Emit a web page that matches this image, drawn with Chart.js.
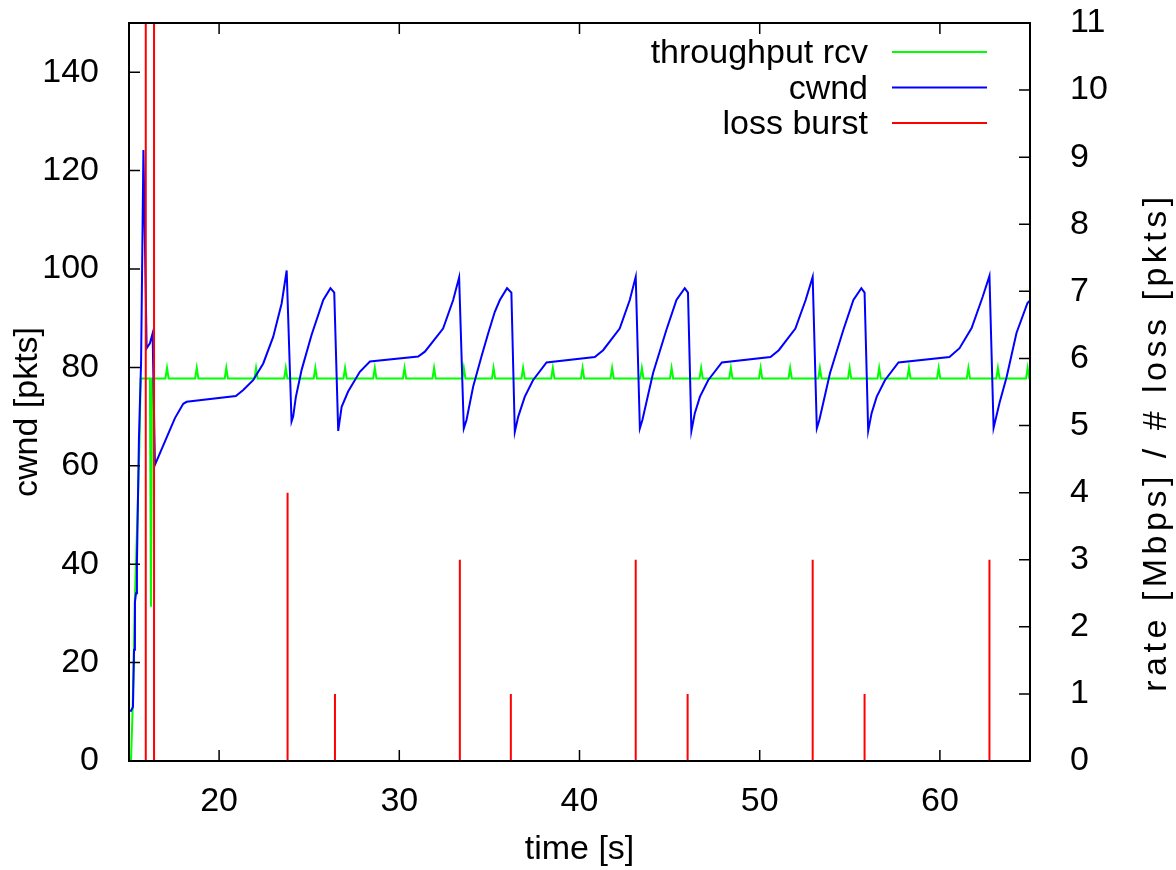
<!DOCTYPE html>
<html>
<head>
<meta charset="utf-8">
<script src="https://cdn.jsdelivr.net/npm/chart.js@4.4.1/dist/chart.umd.min.js"></script>
<style>
  html, body { margin: 0; padding: 0; background: #fff; }
  #wrap { width: 1176px; height: 870px; }
</style>
</head>
<body>
<div id="wrap"><canvas id="chart" width="1176" height="870"></canvas></div>
<script>
// ---------- DATA ----------
const xTicks = [20, 30, 40, 50, 60];
const yTicks = [0, 20, 40, 60, 80, 100, 120, 140];
const y2Ticks = [0, 1, 2, 3, 4, 5, 6, 7, 8, 9, 10, 11];

// cwnd [pkts] over time [s]
const cwndT = [15.08, 15.22, 15.28, 15.33, 15.39, 15.44, 15.55, 15.61, 15.67, 15.80, 15.98, 16.16, 16.31, 16.44,
  17.27, 17.55, 18.01, 18.2, 20.93, 21.34, 21.89, 22.45, 23.0, 23.47, 23.75,
  24.02, 24.11, 24.26, 24.58, 25.13, 25.78, 26.18, 26.39, 26.61, 26.8, 27.16, 27.81, 28.37, 31.05, 31.42, 32.43, 32.99, 33.32,
  33.58, 33.73, 34.1, 34.56, 34.93, 35.3, 35.58, 35.98, 36.22, 36.41, 36.6, 36.96, 37.42, 38.17, 40.85, 41.31, 42.23, 42.79, 43.12,
  43.35, 43.49, 44.08, 44.82, 45.38, 45.84, 46.02, 46.21, 46.4, 46.68, 47.14, 47.9, 50.6, 51.06, 51.98, 52.55, 52.94,
  53.17, 53.31, 53.9, 54.64, 55.2, 55.64, 55.82, 56.02, 56.21, 56.49, 56.95, 57.7, 60.53, 61.09, 61.76, 62.37, 62.75,
  62.98, 63.31, 63.7, 64.25, 64.86, 65.0];
const cwndV = [10.0, 11.0, 22.6, 32.3, 34.1, 40.2, 65.2, 73.4, 80.9, 124.2, 83.9, 84.9, 86.9, 60.2,
  67.3, 69.7, 72.6, 73.0, 74.2, 75.4, 77.4, 80.8, 86.2, 93.0, 99.7,
  69.0, 70.0, 74.0, 79.5, 86.6, 93.7, 96.1, 95.2, 67.1, 72.0, 75.1, 79.1, 81.2, 82.2, 83.2, 87.9, 93.7, 98.3,
  67.6, 69.3, 76.1, 82.2, 86.9, 91.3, 93.7, 96.1, 95.2, 66.9, 70.0, 74.0, 77.4, 81.0, 82.1, 83.5, 87.9, 93.7, 98.4,
  67.6, 69.3, 78.8, 87.6, 93.7, 96.1, 95.2, 67.1, 70.7, 74.0, 77.4, 81.0, 82.1, 83.5, 87.9, 93.7, 98.4,
  67.6, 69.3, 78.8, 87.6, 93.7, 96.1, 95.2, 67.1, 70.7, 74.0, 77.4, 81.0, 82.1, 83.9, 88.0, 94.3, 98.6,
  67.7, 72.8, 78.0, 87.0, 93.1, 93.6];

// throughput rcv [Mbps]: ramp-up, then steady rate with short spikes
const rcvStartT = [15.11, 15.2, 15.33, 15.46, 15.57, 15.65, 16.16, 16.22, 16.28];
const rcvStartV = [0, 0.76, 2.45, 3.59, 4.59, 5.70, 5.70, 2.3, 5.70];
const rcvBase = 5.70;
const rcvSpikeT = [17.11, 18.76, 20.40, 22.05, 23.70, 25.34, 26.99, 28.64, 30.29, 31.93, 33.58, 35.23, 36.87, 38.52, 40.17,
  41.81, 43.46, 45.11, 46.75, 48.40, 50.05, 51.69, 53.34, 54.99, 56.63, 58.28, 59.93, 61.58, 63.22, 64.87];
const rcvSpikeV = [5.86, 5.86, 5.86, 5.86, 5.86, 5.86, 5.86, 5.86, 5.86, 5.86, 5.86, 5.86, 5.86, 5.86, 5.86,
  5.86, 5.86, 5.86, 5.86, 5.86, 5.86, 5.86, 5.86, 5.86, 5.86, 5.86, 5.86, 5.86, 5.86, 5.86];

// loss burst [pkts]
const lossT = [15.93, 16.39, 23.80, 26.43, 33.36, 36.19, 43.12, 46.0, 52.94, 55.82, 62.75];
const lossV = [14, 14, 4, 1, 3, 1, 3, 1, 3, 1, 3];

// ---------- build point lists ----------
const cwndPts = cwndT.map((t, i) => ({ x: t, y: cwndV[i] }));

const rcvPts = rcvStartT.map((t, i) => ({ x: t, y: rcvStartV[i] }));
rcvSpikeT.forEach((t, i) => {
  rcvPts.push({ x: t - 0.09, y: rcvBase }, { x: t, y: rcvSpikeV[i] }, { x: Math.min(t + 0.09, 65), y: rcvBase });
});
rcvPts.push({ x: 65, y: rcvBase });

const lossPts = [];
lossT.forEach((t, i) => lossPts.push({ x: t, y: 0 }, { x: t, y: lossV[i] }, { x: t, y: null }));

// ---------- style ----------
const FONT = { family: '"Liberation Sans", Arial, Helvetica, sans-serif', size: 34 };
const FONT_CSS = `${FONT.size}px ${FONT.family}`;
const TICK = 11;

// frame, inward ticks, legend and y titles (gnuplot look)
const gnuFrame = {
  id: 'gnuFrame',
  afterDatasetsDraw(chart) {
    const { ctx, chartArea: a, scales } = chart;
    ctx.save();
    ctx.strokeStyle = '#000';
    ctx.lineWidth = 1.5;
    ctx.beginPath();
    xTicks.forEach(v => {
      const p = scales.x.getPixelForValue(v);
      ctx.moveTo(p, a.bottom); ctx.lineTo(p, a.bottom - TICK);
      ctx.moveTo(p, a.top); ctx.lineTo(p, a.top + TICK);
    });
    yTicks.forEach(v => {
      const p = scales.y.getPixelForValue(v);
      ctx.moveTo(a.left, p); ctx.lineTo(a.left + TICK, p);
    });
    y2Ticks.forEach(v => {
      const p = scales.y2.getPixelForValue(v);
      ctx.moveTo(a.right, p); ctx.lineTo(a.right - TICK, p);
    });
    ctx.stroke();
    ctx.lineWidth = 2;
    ctx.strokeRect(a.left, a.top, a.right - a.left, a.bottom - a.top);

    // legend
    ctx.font = FONT_CSS;
    ctx.fillStyle = '#000';
    ctx.textAlign = 'right';
    ctx.textBaseline = 'alphabetic';
    chart.data.datasets.forEach((ds, i) => {
      const y = 52 + i * 35.5;
      ctx.fillText(ds.label, 868, y + 11);
      ctx.strokeStyle = ds.borderColor;
      ctx.lineWidth = 2;
      ctx.beginPath();
      ctx.moveTo(892, y); ctx.lineTo(987, y);
      ctx.stroke();
    });

    // y titles, both reading bottom-to-top
    ctx.textAlign = 'center';
    ctx.textBaseline = 'middle';
    ctx.save();
    ctx.translate(28, 412);
    ctx.rotate(-Math.PI / 2);
    ctx.fillText('cwnd [pkts]', 0, 0);
    ctx.restore();
    ctx.save();
    ctx.translate(1157, 442);
    ctx.rotate(-Math.PI / 2);
    ctx.letterSpacing = '4.5px';
    ctx.fillText('rate [Mbps] / # loss [pkts]', 0, 0);
    ctx.restore();
    ctx.restore();
  }
};

const setTicks = list => s => { s.ticks = list.map(v => ({ value: v })); };
const fitBox = (w, h) => s => {
  if (w) s.width = w;
  if (h) s.height = h;
  s.paddingTop = 0;
  s.paddingBottom = 0;
};

new Chart(document.getElementById('chart'), {
  type: 'line',
  data: {
    datasets: [
      { label: 'throughput rcv', data: rcvPts, yAxisID: 'y2', borderColor: '#00ff00', borderWidth: 2, order: 3 },
      { label: 'cwnd', data: cwndPts, yAxisID: 'y', borderColor: '#0000ff', borderWidth: 2, order: 2 },
      { label: 'loss burst', data: lossPts, yAxisID: 'y2', borderColor: '#ff0000', borderWidth: 2, order: 1, spanGaps: false }
    ]
  },
  options: {
    responsive: false,
    animation: false,
    devicePixelRatio: 1,
    elements: { point: { radius: 0, hoverRadius: 0 }, line: { tension: 0 } },
    layout: { padding: { top: 23, left: 0, right: 0, bottom: 0 } },
    plugins: { legend: { display: false }, tooltip: { enabled: false } },
    scales: {
      x: {
        type: 'linear', min: 15, max: 65,
        afterBuildTicks: setTicks(xTicks),
        afterFit: fitBox(0, 109),
        grid: { display: false },
        border: { display: false },
        ticks: { color: '#000', font: FONT, padding: 12, maxRotation: 0 },
        title: { display: true, text: 'time [s]', color: '#000', font: FONT, padding: { top: 0, bottom: 0 } }
      },
      y: {
        type: 'linear', position: 'left', min: 0, max: 150,
        afterBuildTicks: setTicks(yTicks),
        afterFit: fitBox(129, 0),
        grid: { display: false },
        border: { display: false },
        ticks: { color: '#000', font: FONT, padding: 22 }
      },
      y2: {
        type: 'linear', position: 'right', min: 0, max: 11,
        afterBuildTicks: setTicks(y2Ticks),
        afterFit: fitBox(146, 0),
        grid: { display: false },
        border: { display: false },
        ticks: { color: '#000', font: FONT, padding: 32 }
      }
    }
  },
  plugins: [gnuFrame]
});
</script>
</body>
</html>
